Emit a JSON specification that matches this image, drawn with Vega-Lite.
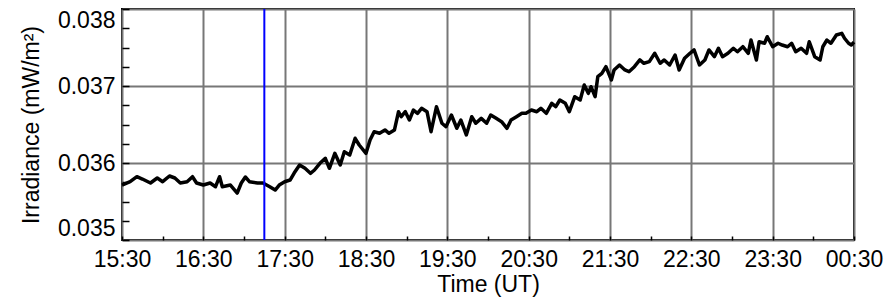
{
  "$schema": "https://vega.github.io/schema/vega-lite/v6.json",
  "autosize": "none",
  "width": 732,
  "height": 231,
  "padding": {"left": 122, "top": 9, "right": 36, "bottom": 60},
  "background": "white",
  "config": {
    "view": {"stroke": "black", "strokeWidth": 2},
    "axis": {"labelFont": "Liberation Sans", "titleFont": "Liberation Sans", "labelColor": "black", "titleColor": "black", "titleFontWeight": "normal", "labelFontSize": 23, "titleFontSize": 23}
  },
  "datasets": {
    "irr": [
      {"t": "2024-01-01T15:30:00", "v": 0.035714},
      {"t": "2024-01-01T15:36:00", "v": 0.035757},
      {"t": "2024-01-01T15:41:00", "v": 0.035822},
      {"t": "2024-01-01T15:45:00", "v": 0.035792},
      {"t": "2024-01-01T15:51:00", "v": 0.03574},
      {"t": "2024-01-01T15:56:00", "v": 0.035805},
      {"t": "2024-01-01T16:00:00", "v": 0.035757},
      {"t": "2024-01-01T16:05:00", "v": 0.035831},
      {"t": "2024-01-01T16:09:00", "v": 0.035805},
      {"t": "2024-01-01T16:13:00", "v": 0.03574},
      {"t": "2024-01-01T16:18:00", "v": 0.035757},
      {"t": "2024-01-01T16:22:00", "v": 0.035822},
      {"t": "2024-01-01T16:25:00", "v": 0.03574},
      {"t": "2024-01-01T16:30:00", "v": 0.035714},
      {"t": "2024-01-01T16:35:00", "v": 0.03574},
      {"t": "2024-01-01T16:39:00", "v": 0.035692},
      {"t": "2024-01-01T16:42:00", "v": 0.035822},
      {"t": "2024-01-01T16:44:00", "v": 0.035692},
      {"t": "2024-01-01T16:50:00", "v": 0.035714},
      {"t": "2024-01-01T16:55:00", "v": 0.03561},
      {"t": "2024-01-01T16:58:00", "v": 0.03574},
      {"t": "2024-01-01T17:01:00", "v": 0.035818},
      {"t": "2024-01-01T17:04:00", "v": 0.035757},
      {"t": "2024-01-01T17:10:00", "v": 0.03574},
      {"t": "2024-01-01T17:14:00", "v": 0.03574},
      {"t": "2024-01-01T17:19:00", "v": 0.035692},
      {"t": "2024-01-01T17:23:00", "v": 0.035649},
      {"t": "2024-01-01T17:26:00", "v": 0.035714},
      {"t": "2024-01-01T17:30:00", "v": 0.035757},
      {"t": "2024-01-01T17:34:00", "v": 0.035779},
      {"t": "2024-01-01T17:37:00", "v": 0.03587},
      {"t": "2024-01-01T17:41:00", "v": 0.035974},
      {"t": "2024-01-01T17:45:00", "v": 0.035931},
      {"t": "2024-01-01T17:49:00", "v": 0.035866},
      {"t": "2024-01-01T17:52:00", "v": 0.035909},
      {"t": "2024-01-01T17:56:00", "v": 0.035996},
      {"t": "2024-01-01T18:00:00", "v": 0.036061},
      {"t": "2024-01-01T18:03:00", "v": 0.035931},
      {"t": "2024-01-01T18:07:00", "v": 0.036126},
      {"t": "2024-01-01T18:11:00", "v": 0.035974},
      {"t": "2024-01-01T18:14:00", "v": 0.036147},
      {"t": "2024-01-01T18:18:00", "v": 0.036104},
      {"t": "2024-01-01T18:22:00", "v": 0.036321},
      {"t": "2024-01-01T18:25:00", "v": 0.036234},
      {"t": "2024-01-01T18:30:00", "v": 0.036126},
      {"t": "2024-01-01T18:33:00", "v": 0.036299},
      {"t": "2024-01-01T18:36:00", "v": 0.036406},
      {"t": "2024-01-01T18:40:00", "v": 0.036386},
      {"t": "2024-01-01T18:44:00", "v": 0.036429},
      {"t": "2024-01-01T18:47:00", "v": 0.036386},
      {"t": "2024-01-01T18:51:00", "v": 0.036429},
      {"t": "2024-01-01T18:54:00", "v": 0.036666},
      {"t": "2024-01-01T18:56:00", "v": 0.036601},
      {"t": "2024-01-01T18:59:00", "v": 0.036666},
      {"t": "2024-01-01T19:02:00", "v": 0.036558},
      {"t": "2024-01-01T19:05:00", "v": 0.036688},
      {"t": "2024-01-01T19:08:00", "v": 0.036645},
      {"t": "2024-01-01T19:11:00", "v": 0.03671},
      {"t": "2024-01-01T19:15:00", "v": 0.036666},
      {"t": "2024-01-01T19:18:00", "v": 0.036406},
      {"t": "2024-01-01T19:22:00", "v": 0.036731},
      {"t": "2024-01-01T19:26:00", "v": 0.036516},
      {"t": "2024-01-01T19:29:00", "v": 0.036471},
      {"t": "2024-01-01T19:33:00", "v": 0.036623},
      {"t": "2024-01-01T19:37:00", "v": 0.036451},
      {"t": "2024-01-01T19:40:00", "v": 0.036558},
      {"t": "2024-01-01T19:44:00", "v": 0.036364},
      {"t": "2024-01-01T19:48:00", "v": 0.036601},
      {"t": "2024-01-01T19:51:00", "v": 0.036516},
      {"t": "2024-01-01T19:55:00", "v": 0.03658},
      {"t": "2024-01-01T19:59:00", "v": 0.036516},
      {"t": "2024-01-01T20:02:00", "v": 0.036623},
      {"t": "2024-01-01T20:06:00", "v": 0.03658},
      {"t": "2024-01-01T20:10:00", "v": 0.036536},
      {"t": "2024-01-01T20:14:00", "v": 0.036451},
      {"t": "2024-01-01T20:17:00", "v": 0.036558},
      {"t": "2024-01-01T20:21:00", "v": 0.036601},
      {"t": "2024-01-01T20:25:00", "v": 0.036645},
      {"t": "2024-01-01T20:28:00", "v": 0.036645},
      {"t": "2024-01-01T20:32:00", "v": 0.036688},
      {"t": "2024-01-01T20:36:00", "v": 0.036666},
      {"t": "2024-01-01T20:39:00", "v": 0.03671},
      {"t": "2024-01-01T20:43:00", "v": 0.036645},
      {"t": "2024-01-01T20:47:00", "v": 0.036775},
      {"t": "2024-01-01T20:50:00", "v": 0.036731},
      {"t": "2024-01-01T20:53:00", "v": 0.036818},
      {"t": "2024-01-01T20:57:00", "v": 0.036775},
      {"t": "2024-01-01T21:00:00", "v": 0.036666},
      {"t": "2024-01-01T21:04:00", "v": 0.036861},
      {"t": "2024-01-01T21:08:00", "v": 0.036818},
      {"t": "2024-01-01T21:11:00", "v": 0.037013},
      {"t": "2024-01-01T21:14:00", "v": 0.036905},
      {"t": "2024-01-01T21:16:00", "v": 0.036991},
      {"t": "2024-01-01T21:19:00", "v": 0.036861},
      {"t": "2024-01-01T21:21:00", "v": 0.037121},
      {"t": "2024-01-01T21:24:00", "v": 0.037165},
      {"t": "2024-01-01T21:27:00", "v": 0.037251},
      {"t": "2024-01-01T21:31:00", "v": 0.037078},
      {"t": "2024-01-01T21:33:00", "v": 0.037208},
      {"t": "2024-01-01T21:37:00", "v": 0.037273},
      {"t": "2024-01-01T21:41:00", "v": 0.037208},
      {"t": "2024-01-01T21:44:00", "v": 0.037186},
      {"t": "2024-01-01T21:48:00", "v": 0.037251},
      {"t": "2024-01-01T21:52:00", "v": 0.037338},
      {"t": "2024-01-01T21:55:00", "v": 0.037295},
      {"t": "2024-01-01T21:59:00", "v": 0.037316},
      {"t": "2024-01-01T22:03:00", "v": 0.037425},
      {"t": "2024-01-01T22:07:00", "v": 0.037295},
      {"t": "2024-01-01T22:10:00", "v": 0.037338},
      {"t": "2024-01-01T22:14:00", "v": 0.037273},
      {"t": "2024-01-01T22:18:00", "v": 0.037403},
      {"t": "2024-01-01T22:21:00", "v": 0.037208},
      {"t": "2024-01-01T22:25:00", "v": 0.03736},
      {"t": "2024-01-01T22:29:00", "v": 0.037425},
      {"t": "2024-01-01T22:32:00", "v": 0.037468},
      {"t": "2024-01-01T22:36:00", "v": 0.037273},
      {"t": "2024-01-01T22:40:00", "v": 0.037338},
      {"t": "2024-01-01T22:43:00", "v": 0.037468},
      {"t": "2024-01-01T22:47:00", "v": 0.037381},
      {"t": "2024-01-01T22:50:00", "v": 0.03749},
      {"t": "2024-01-01T22:53:00", "v": 0.037381},
      {"t": "2024-01-01T22:57:00", "v": 0.037425},
      {"t": "2024-01-01T23:01:00", "v": 0.03749},
      {"t": "2024-01-01T23:04:00", "v": 0.037445},
      {"t": "2024-01-01T23:08:00", "v": 0.03751},
      {"t": "2024-01-01T23:12:00", "v": 0.037425},
      {"t": "2024-01-01T23:14:00", "v": 0.037597},
      {"t": "2024-01-01T23:18:00", "v": 0.037338},
      {"t": "2024-01-01T23:20:00", "v": 0.037575},
      {"t": "2024-01-01T23:24:00", "v": 0.037555},
      {"t": "2024-01-01T23:26:00", "v": 0.03764},
      {"t": "2024-01-01T23:30:00", "v": 0.03751},
      {"t": "2024-01-01T23:34:00", "v": 0.037555},
      {"t": "2024-01-01T23:37:00", "v": 0.037532},
      {"t": "2024-01-01T23:41:00", "v": 0.03751},
      {"t": "2024-01-01T23:44:00", "v": 0.037555},
      {"t": "2024-01-01T23:47:00", "v": 0.037445},
      {"t": "2024-01-01T23:51:00", "v": 0.03749},
      {"t": "2024-01-01T23:55:00", "v": 0.037425},
      {"t": "2024-01-01T23:57:00", "v": 0.037575},
      {"t": "2024-01-02T00:01:00", "v": 0.037381},
      {"t": "2024-01-02T00:05:00", "v": 0.037338},
      {"t": "2024-01-02T00:07:00", "v": 0.03751},
      {"t": "2024-01-02T00:10:00", "v": 0.037597},
      {"t": "2024-01-02T00:13:00", "v": 0.037555},
      {"t": "2024-01-02T00:17:00", "v": 0.037662},
      {"t": "2024-01-02T00:21:00", "v": 0.037684},
      {"t": "2024-01-02T00:23:00", "v": 0.03762},
      {"t": "2024-01-02T00:26:00", "v": 0.037555},
      {"t": "2024-01-02T00:28:00", "v": 0.037532},
      {"t": "2024-01-02T00:30:00", "v": 0.03757}
    ],
    "marker": [{"t": "2024-01-01T17:15:00"}]
  },
  "layer": [
    {
      "data": {"name": "irr"},
      "mark": {"type": "line", "color": "black", "strokeWidth": 3.5, "strokeJoin": "round"},
      "encoding": {
        "x": {"field": "t", "type": "temporal",
          "scale": {"domain": [{"year": 2024, "month": 1, "date": 1, "hours": 15, "minutes": 30}, {"year": 2024, "month": 1, "date": 2, "hours": 0, "minutes": 30}]},
          "axis": {"orient": "bottom", "title": "Time (UT)", "titlePadding": 2,
            "labelExpr": "minutes(datum.value) == 30 ? timeFormat(datum.value, '%H:%M') : ''",
            "values": [
              {"year": 2024, "month": 1, "date": 1, "hours": 15, "minutes": 30},
              {"year": 2024, "month": 1, "date": 1, "hours": 15, "minutes": 45},
              {"year": 2024, "month": 1, "date": 1, "hours": 16, "minutes": 0},
              {"year": 2024, "month": 1, "date": 1, "hours": 16, "minutes": 15},
              {"year": 2024, "month": 1, "date": 1, "hours": 16, "minutes": 30},
              {"year": 2024, "month": 1, "date": 1, "hours": 16, "minutes": 45},
              {"year": 2024, "month": 1, "date": 1, "hours": 17, "minutes": 0},
              {"year": 2024, "month": 1, "date": 1, "hours": 17, "minutes": 15},
              {"year": 2024, "month": 1, "date": 1, "hours": 17, "minutes": 30},
              {"year": 2024, "month": 1, "date": 1, "hours": 17, "minutes": 45},
              {"year": 2024, "month": 1, "date": 1, "hours": 18, "minutes": 0},
              {"year": 2024, "month": 1, "date": 1, "hours": 18, "minutes": 15},
              {"year": 2024, "month": 1, "date": 1, "hours": 18, "minutes": 30},
              {"year": 2024, "month": 1, "date": 1, "hours": 18, "minutes": 45},
              {"year": 2024, "month": 1, "date": 1, "hours": 19, "minutes": 0},
              {"year": 2024, "month": 1, "date": 1, "hours": 19, "minutes": 15},
              {"year": 2024, "month": 1, "date": 1, "hours": 19, "minutes": 30},
              {"year": 2024, "month": 1, "date": 1, "hours": 19, "minutes": 45},
              {"year": 2024, "month": 1, "date": 1, "hours": 20, "minutes": 0},
              {"year": 2024, "month": 1, "date": 1, "hours": 20, "minutes": 15},
              {"year": 2024, "month": 1, "date": 1, "hours": 20, "minutes": 30},
              {"year": 2024, "month": 1, "date": 1, "hours": 20, "minutes": 45},
              {"year": 2024, "month": 1, "date": 1, "hours": 21, "minutes": 0},
              {"year": 2024, "month": 1, "date": 1, "hours": 21, "minutes": 15},
              {"year": 2024, "month": 1, "date": 1, "hours": 21, "minutes": 30},
              {"year": 2024, "month": 1, "date": 1, "hours": 21, "minutes": 45},
              {"year": 2024, "month": 1, "date": 1, "hours": 22, "minutes": 0},
              {"year": 2024, "month": 1, "date": 1, "hours": 22, "minutes": 15},
              {"year": 2024, "month": 1, "date": 1, "hours": 22, "minutes": 30},
              {"year": 2024, "month": 1, "date": 1, "hours": 22, "minutes": 45},
              {"year": 2024, "month": 1, "date": 1, "hours": 23, "minutes": 0},
              {"year": 2024, "month": 1, "date": 1, "hours": 23, "minutes": 15},
              {"year": 2024, "month": 1, "date": 1, "hours": 23, "minutes": 30},
              {"year": 2024, "month": 1, "date": 1, "hours": 23, "minutes": 45},
              {"year": 2024, "month": 1, "date": 2, "hours": 0, "minutes": 0},
              {"year": 2024, "month": 1, "date": 2, "hours": 0, "minutes": 15},
              {"year": 2024, "month": 1, "date": 2, "hours": 0, "minutes": 30}
            ],
            "grid": true, "gridColor": "#777777", "gridWidth": 2,
            "gridOpacity": {"condition": {"test": "minutes(datum.value) == 30", "value": 1}, "value": 0},
            "domain": false, "ticks": true, "tickSize": -4, "tickColor": "black", "tickWidth": 1.5, "labelPadding": 12, "labelFlush": false}},
        "y": {"field": "v", "type": "quantitative",
          "scale": {"domain": [0.035, 0.038], "zero": false, "nice": false},
          "axis": {"orient": "left", "title": "Irradiance (mW/m²)", "titlePadding": 14,
            "values": [0.035, 0.03525, 0.0355, 0.03575, 0.036, 0.03625, 0.0365, 0.03675, 0.037, 0.03725, 0.0375, 0.03775, 0.038],
            "labelExpr": "abs(datum.value * 1000 - round(datum.value * 1000)) < 0.000001 ? format(datum.value, '.3f') : ''",
            "grid": true, "gridColor": "#777777", "gridWidth": 2,
            "gridOpacity": {"condition": {"test": "abs(datum.value * 1000 - round(datum.value * 1000)) < 0.000001", "value": 1}, "value": 0},
            "domain": false, "ticks": true, "tickSize": -7, "tickColor": "black", "tickWidth": 1.5, "labelPadding": 14, "labelFlush": true}}
      }
    },
    {
      "data": {"name": "marker"},
      "mark": {"type": "rule", "color": "#0000ff", "strokeWidth": 2},
      "encoding": {
        "x": {"field": "t", "type": "temporal"}
      }
    }
  ]
}
